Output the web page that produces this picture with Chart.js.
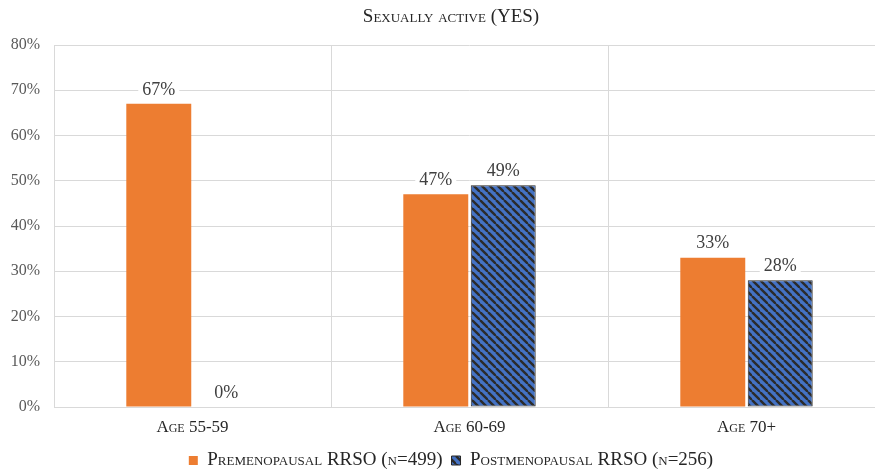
<!DOCTYPE html>
<html>
<head>
<meta charset="utf-8">
<script src="https://cdn.jsdelivr.net/npm/chart.js@4/dist/chart.umd.min.js"></script>
<style>
  html, body { margin: 0; padding: 0; background: #fff; overflow: hidden; }
  #wrap { position: relative; width: 875px; height: 472px; overflow: hidden; }
  canvas { display: block; }
</style>
</head>
<body>
<div id="wrap"><canvas id="chart" width="902" height="480"></canvas></div>
<script>
// Share of women sexually active, by age group and surgery timing
const ageGroups = ['Age 55-59', 'Age 60-69', 'Age 70+'];
const premenopausal = [67, 47, 33];
const postmenopausal = [0, 49, 28];
const seriesNames = ['Premenopausal RRSO (n=499)', 'Postmenopausal RRSO (n=256)'];
const titleText = 'Sexually active (YES)';
const yTickMax = 80;
const yTickStep = 10;

const SERIF = '"Liberation Serif", "Times New Roman", serif';
const ORANGE = '#ED7D31';
const BLUE = '#4472C4';
const DARK = '#262626';
const GRID = '#d9d9d9';

// Blue fill with wide downward diagonal stripes
function stripePattern() {
  const c = document.createElement('canvas');
  c.width = 8; c.height = 8;
  const p = c.getContext('2d');
  p.fillStyle = BLUE;
  p.fillRect(0, 0, 8, 8);
  p.strokeStyle = '#2b2b2b';
  p.lineWidth = 2.4;
  for (const o of [-8, 0, 8]) {
    p.beginPath();
    p.moveTo(o, 0);
    p.lineTo(o + 8, 8);
    p.stroke();
  }
  return p.createPattern(c, 'repeat');
}

// Percentage labels above each bar, on a white backing
const valueLabels = {
  id: 'valueLabels',
  afterDatasetsDraw(chart) {
    const ctx = chart.ctx;
    ctx.save();
    ctx.font = '18px ' + SERIF;
    ctx.textAlign = 'center';
    ctx.textBaseline = 'middle';
    chart.data.datasets.forEach((ds, i) => {
      const meta = chart.getDatasetMeta(i);
      meta.data.forEach((bar, j) => {
        const text = ds.data[j] + '%';
        const w = ctx.measureText(text).width;
        const cy = bar.y - 14;
        ctx.fillStyle = '#ffffff';
        ctx.fillRect(bar.x - w / 2 - 4, cy - 9, w + 8, 18);
        ctx.fillStyle = '#404040';
        ctx.fillText(text, bar.x, cy);
      });
    });
    ctx.restore();
  }
};

const smallCaps = size => ({ family: SERIF, size, weight: 'small-caps' });

new Chart(document.getElementById('chart'), {
  type: 'bar',
  data: {
    labels: ageGroups,
    datasets: [
      {
        label: seriesNames[0],
        data: premenopausal,
        backgroundColor: ORANGE,
        borderWidth: 0,
        categoryPercentage: 0.487,
        barPercentage: 0.963
      },
      {
        label: seriesNames[1],
        data: postmenopausal,
        backgroundColor: stripePattern(),
        borderColor: DARK,
        borderWidth: 1,
        borderSkipped: false,
        categoryPercentage: 0.487,
        barPercentage: 0.963
      }
    ]
  },
  options: {
    responsive: false,
    animation: false,
    devicePixelRatio: 1,
    layout: { padding: 0 },
    plugins: {
      title: {
        display: true,
        text: titleText,
        color: DARK,
        font: Object.assign(smallCaps(19), { lineHeight: 1.2 }),
        padding: { top: 5.6, bottom: 16.6 }
      },
      legend: {
        position: 'bottom',
        labels: {
          color: DARK,
          font: smallCaps(19),
          boxWidth: 9,
          boxHeight: 9,
          padding: 9
        }
      },
      tooltip: { enabled: false }
    },
    scales: {
      x: {
        grid: { color: GRID, drawTicks: false, offset: true },
        border: { color: GRID, width: 1 },
        ticks: {
          color: DARK,
          padding: 10.8,
          font: smallCaps(17)
        },
        afterFit(scale) { scale.height = 35; }
      },
      y: {
        min: 0,
        max: yTickMax,
        grid: { color: GRID, drawTicks: false },
        border: { display: false },
        ticks: {
          stepSize: yTickStep,
          color: '#595959',
          padding: 14,
          font: { family: SERIF, size: 16 },
          callback: v => v + '%'
        },
        afterFit(scale) { scale.width = 54; }
      },
      // empty right-hand gutter that balances the title and legend
      gutter: {
        type: 'linear',
        position: 'right',
        grid: { display: false },
        border: { display: false },
        ticks: { display: false },
        afterFit(scale) { scale.width = 17; }
      }
    }
  },
  plugins: [valueLabels]
});
</script>
</body>
</html>
